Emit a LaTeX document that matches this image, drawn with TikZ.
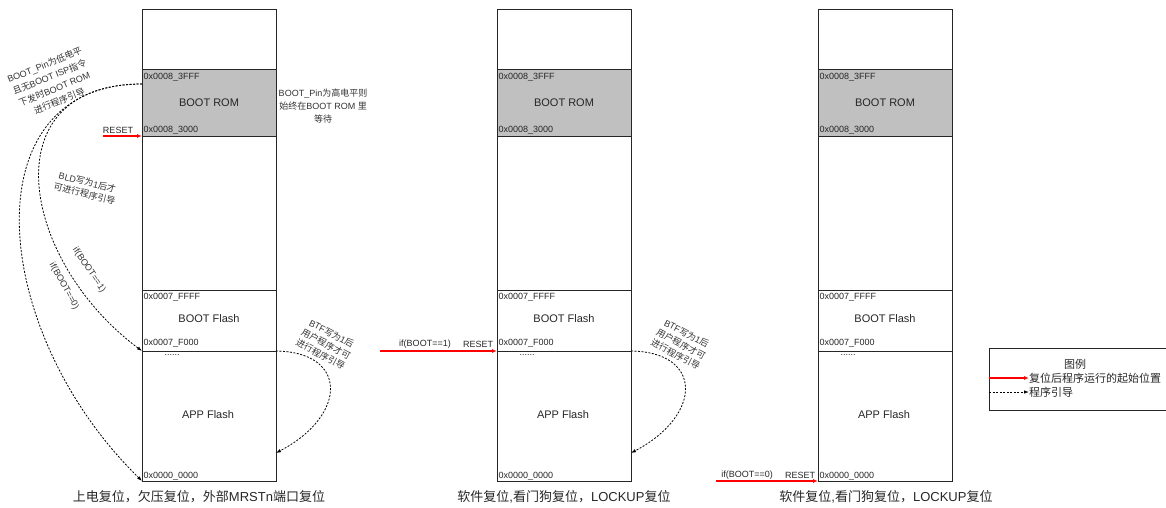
\documentclass[tikz,border=0pt]{standalone}
\usepackage{fontspec}
\setmainfont{Liberation Sans}
\newfontfamily\cjk{Noto Sans CJK SC}
\usetikzlibrary{arrows.meta}
\definecolor{romgray}{RGB}{192,192,192}
\definecolor{rstred}{RGB}{255,0,0}
\tikzset{
  seg/.style={draw=black!85, line width=1pt, minimum width=134pt, inner sep=0pt, outer sep=0pt, anchor=north west},
  romseg/.style={seg, fill=romgray},
  addr/.style={font=\fontsize{9}{11}\selectfont, anchor=west, inner sep=0pt, text=black!85},
  big/.style={font=\fontsize{11}{13}\selectfont, inner sep=0pt, text=black!85},
  note/.style={font=\fontsize{9}{13}\selectfont, align=center, inner sep=0pt, text=black!80},
  notetight/.style={note, font=\fontsize{9}{11.7}\selectfont},
  captext/.style={font=\fontsize{13}{15}\selectfont, inner sep=0pt, text=black!85},
  leg/.style={font=\fontsize{11}{13}\selectfont, inner sep=0pt, text=black!85},
  rst/.style={draw=rstred, line width=1.2pt, -{Latex[length=5pt,width=4pt]}},
  flow/.style={black, line width=0.8pt, dash pattern=on 2pt off 1.5pt, -{Latex[length=5pt,width=3.5pt]}},
}
\begin{document}
\begin{tikzpicture}[x=1pt,y=-1pt]
\useasboundingbox (0,0) rectangle (1166,508);
\foreach \c/\x in {1/142, 2/497, 3/818}{
  \node[seg, minimum height=60pt] (top\c) at (\x,10) {};
  \node[romseg, minimum height=66pt] (rom\c) at (\x,70) {};
  \node[seg, minimum height=154pt] (mid\c) at (\x,136) {};
  \node[seg, minimum height=61pt] (bf\c) at (\x,290) {};
  \node[seg, minimum height=130pt] (app\c) at (\x,351) {};
  \node[addr] (aa\c) at (\x+1.5,77) {0x0008\_3FFF};
  \node[big] (na\c) at (\x+67,103) {BOOT ROM};
  \node[addr] (ab\c) at (\x+1.5,130) {0x0008\_3000};
  \node[addr] (ac\c) at (\x+1.5,297) {0x0007\_FFFF};
  \node[big] (nb\c) at (\x+67,319) {BOOT Flash};
  \node[addr] (ad\c) at (\x+1.5,343) {0x0007\_F000};
  \node[addr, anchor=center] (dd\c) at (\x+30,355) {......};
  \node[big] (nc\c) at (\x+66,415) {APP Flash};
  \node[addr] (ae\c) at (\x+1.5,476) {0x0000\_0000};
}
% column 1
\coordinate (r1) at (103,136);
\draw[rst] (r1) -- (rom1.south west);
\node[addr, anchor=center] (rl1) at (118,130) {RESET};
\node[note] (bph) at (323,106) {BOOT\_Pin{\cjk 为高电平则}\\{\cjk 始终在}BOOT ROM {\cjk 里}\\{\cjk 等待}};
\node[note, rotate=22] (bpl) at (52,83) {BOOT\_Pin{\cjk 为低电平}\\{\cjk 且无}BOOT ISP{\cjk 指令}\\{\cjk 下发时}BOOT ROM\\{\cjk 进行程序引导}};
\coordinate (s1) at (142,84);
\draw[flow] (s1) .. controls (-30,84) and (-12,330) .. (app1.south west);
\draw[flow] (s1) .. controls (-10,84) and (20,260) .. (bf1.south west);
\node[notetight, rotate=-14] (bld) at (86,188) {BLD{\cjk 写为}1{\cjk 后才}\\{\cjk 可进行程序引导}};
\node[note, rotate=-56] (if1) at (89,270) {if(BOOT==1)};
\node[note, rotate=-61] (if0) at (64,286) {if(BOOT==0)};
% BTF curves, columns 1 and 2
\foreach \c/\x in {1/142, 2/497}{
  \coordinate (t\c) at (\x+134,453);
  \draw[flow] (bf\c.south east) .. controls (\x+206,352) and (\x+206,415) .. (t\c);
  \node[notetight, rotate=-28] (btf\c) at (\x+184,344) {BTF{\cjk 写为}1{\cjk 后}\\{\cjk 用户程序才可}\\{\cjk 进行程序引导}};
}
% column 2
\coordinate (r2) at (380,351);
\draw[rst] (r2) -- (bf2.south west);
\node[addr, anchor=center] (ib2) at (425,344) {if(BOOT==1)};
\node[addr, anchor=center] (rl2) at (478,344) {RESET};
% column 3
\coordinate (r3) at (716,481);
\draw[rst] (r3) -- (app3.south west);
\node[addr, anchor=center] (ib3) at (747,475) {if(BOOT==0)};
\node[addr, anchor=center] (rl3) at (800,475) {RESET};
% captions
\node[captext] (c1) at (199,497) {{\cjk 上电复位，欠压复位，外部}MRSTn{\cjk 端口复位}};
\node[captext] (c2) at (564,497) {{\cjk 软件复位},{\cjk 看门狗复位，}LOCKUP{\cjk 复位}};
\node[captext] (c3) at (886,497) {{\cjk 软件复位},{\cjk 看门狗复位，}LOCKUP{\cjk 复位}};
% legend
\draw[black!85, line width=1pt] (1166,348) -- (989,348) -- (989,410) -- (1166,410);
\node[leg] (lt) at (1075,364) {\cjk 图例};
\coordinate (la) at (989,378);
\node[leg, anchor=west] (l1) at (1029,378) {\cjk 复位后程序运行的起始位置};
\draw[rst] (la) -- (l1.west);
\coordinate (lb) at (989,392);
\node[leg, anchor=west] (l2) at (1029,392) {\cjk 程序引导};
\draw[flow] (lb) -- (l2.west);
\end{tikzpicture}
\end{document}
